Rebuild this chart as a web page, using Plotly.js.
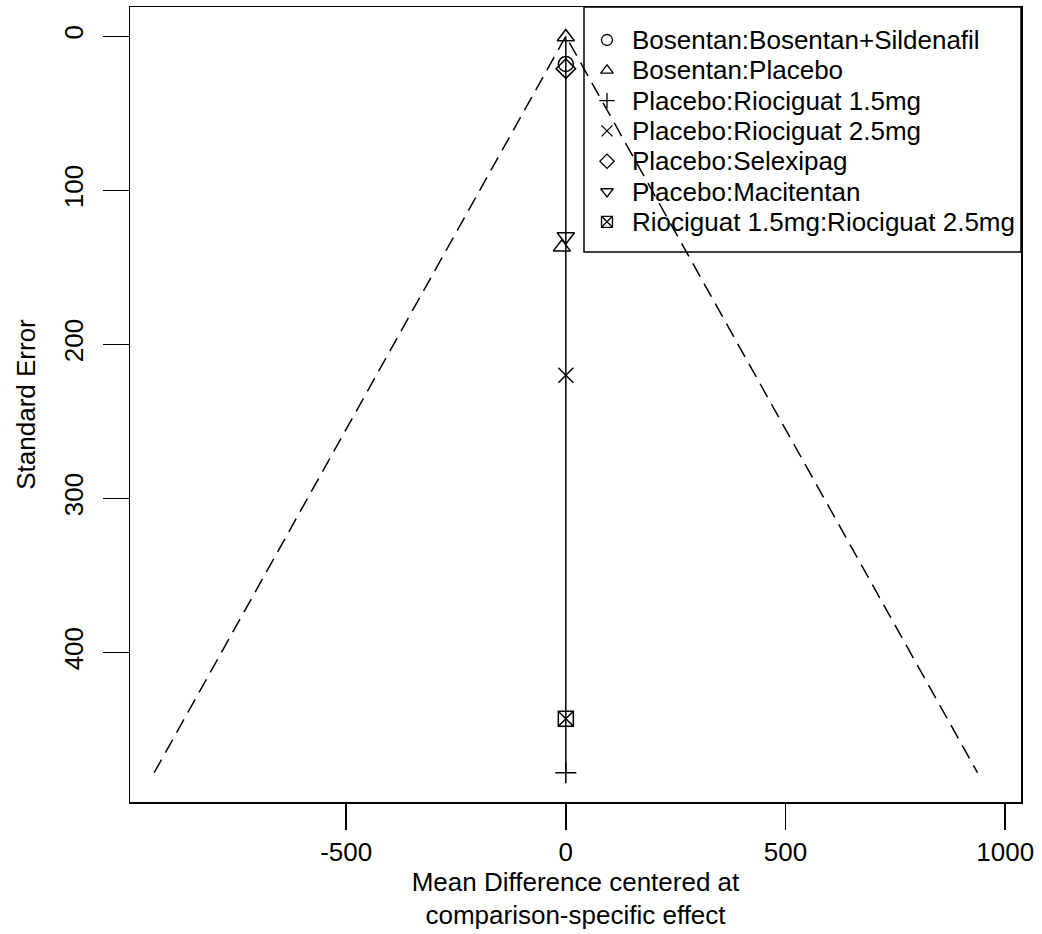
<!DOCTYPE html>
<html>
<head>
<meta charset="utf-8">
<script src="https://cdn.plot.ly/plotly-3.0.1.min.js"></script>
<style>html,body{margin:0;padding:0;background:#fff;}#chart{width:1042px;height:934px;}</style>
</head>
<body>
<div id="chart"></div>
<script>
// Comparisons (legend order)
const comparisons = [
  "Bosentan:Bosentan+Sildenafil",
  "Bosentan:Placebo",
  "Placebo:Riociguat 1.5mg",
  "Placebo:Riociguat 2.5mg",
  "Placebo:Selexipag",
  "Placebo:Macitentan",
  "Riociguat 1.5mg:Riociguat 2.5mg"
];
// Centered mean differences per comparison
const centeredEffect = [
  [0],
  [0, -9],
  [0],
  [0],
  [0],
  [0],
  [0]
];
// Standard errors per comparison
const standardError = [
  [18],
  [0.5, 137],
  [478],
  [220],
  [21],
  [130],
  [443]
];
const symbols = ["circle-open","triangle-up-open","cross-thin-open","x-thin-open","diamond-open","triangle-down-open","square-x-open"];

// Funnel (pseudo 95% limits) and reference line
const funnelX = [-937, 0, 937];
const funnelY = [478, 0, 478];
const refX = [0, 0];
const refY = [0, 478];

const xTicks = [-500, 0, 500, 1000];
const yTicks = [0, 100, 200, 300, 400];

const FONT = "Liberation Sans, Arial, Helvetica, sans-serif";
const FS = 26;

// plot area in pixels (for legend placement)
const W = 1042, H = 934, ML = 130, MR = 21, MT = 7, MB = 132;
const PW = W - ML - MR, PH = H - MT - MB;
const px2x = p => (p - ML) / PW;
const py2y = p => 1 - (p - MT) / PH;

const traces = [
  {x: funnelX, y: funnelY, mode: "lines", line: {color: "#000", width: 1.5, dash: "15px,8px"}, showlegend: false, hoverinfo: "skip"},
  {x: refX, y: refY, mode: "lines", line: {color: "#000", width: 1.5}, showlegend: false, hoverinfo: "skip"}
];
comparisons.forEach((name, i) => {
  traces.push({
    x: centeredEffect[i], y: standardError[i], name: name, mode: "markers", showlegend: false,
    marker: {symbol: symbols[i], size: 15, color: "#000", line: {color: "#000", width: 1.5}}
  });
});

// Legend drawn as a box with symbols and text
const legLeft = 584, legRight = 1021, legTop = 7, legBottom = 252;
const rowY0 = 40, rowStep = 30.3, symX = 607, textX = 630;
const annotations = [];
comparisons.forEach((name, i) => {
  const yy = rowY0 + i * rowStep;
  traces.push({
    x: [px2x(symX)], y: [py2y(yy)], xaxis: "x2", yaxis: "y2", mode: "markers", showlegend: false,
    hoverinfo: "skip",
    marker: {symbol: symbols[i], size: 11, color: "#000", line: {color: "#000", width: 1.3}}
  });
  annotations.push({
    xref: "paper", yref: "paper", x: px2x(textX), y: py2y(yy), xanchor: "left", yanchor: "middle",
    text: name, showarrow: false, font: {family: FONT, size: FS, color: "#000"}
  });
});

const layout = {
  width: W, height: H,
  margin: {l: ML, r: MR, t: MT, b: MB},
  paper_bgcolor: "#fff", plot_bgcolor: "#fff",
  font: {family: FONT, size: FS, color: "#000"},
  showlegend: false,
  shapes: [{
    type: "rect", xref: "paper", yref: "paper",
    x0: px2x(legLeft), x1: px2x(legRight), y0: py2y(legBottom), y1: py2y(legTop),
    line: {color: "#000", width: 1.5}, fillcolor: "rgba(0,0,0,0)", layer: "above"
  }],
  annotations: annotations,
  xaxis: {
    range: [-992, 1036], tickvals: xTicks, ticktext: xTicks.map(String),
    ticks: "outside", ticklen: 26, tickwidth: 1.5, tickcolor: "#000", ticklabelstandoff: 0,
    showline: true, mirror: true, linecolor: "#000", linewidth: 1.5,
    showgrid: false, zeroline: false,
    title: {text: "Mean Difference centered at<br>comparison-specific effect", standoff: 4, font: {size: FS}}
  },
  yaxis: {
    range: [497, -19], tickvals: yTicks, ticktext: yTicks.map(String),
    tickangle: -90,
    ticks: "outside", ticklen: 26, tickwidth: 1.5, tickcolor: "#000", ticklabelstandoff: 9,
    showline: true, mirror: true, linecolor: "#000", linewidth: 1.5,
    showgrid: false, zeroline: false,
    title: {text: "Standard Error", standoff: 16, font: {size: FS}}
  },
  xaxis2: {overlaying: "x", range: [0, 1], visible: false, fixedrange: true},
  yaxis2: {overlaying: "y", range: [0, 1], visible: false, fixedrange: true}
};

Plotly.newPlot("chart", traces, layout, {displayModeBar: false, staticPlot: true});
</script>
</body>
</html>
